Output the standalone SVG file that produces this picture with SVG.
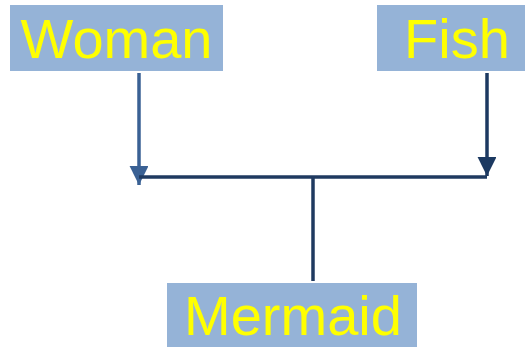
<svg xmlns="http://www.w3.org/2000/svg" width="525" height="347" viewBox="0 0 525 347">
<style>
.box{fill:#95b3d7}
.lbl{font-family:"Liberation Sans",Arial,sans-serif;font-size:56px;fill:#ffff00}
.ln{stroke:#1f3a60;stroke-width:3.5;fill:none}
</style>
<defs>
<marker id="ahL" markerWidth="6" markerHeight="6" refX="5.4" refY="2.7" orient="auto" markerUnits="strokeWidth"><path d="M0,0 L5.4,2.7 L0,5.4 z" fill="#3a6194"/></marker>
<marker id="ahR" markerWidth="6" markerHeight="6" refX="5.4" refY="2.7" orient="auto" markerUnits="strokeWidth"><path d="M0,0 L5.4,2.7 L0,5.4 z" fill="#1c3961"/></marker>
</defs>
<g id="connectors">
<line x1="139" y1="73" x2="139" y2="185" style="stroke:#3a6194;stroke-width:3.5" marker-end="url(#ahL)"/>
<line x1="487" y1="73" x2="487" y2="176" style="stroke:#1c3961;stroke-width:3.5" marker-end="url(#ahR)"/>
<line class="ln" x1="139" y1="177" x2="487" y2="177"/>
<line class="ln" x1="313" y1="177" x2="313" y2="281"/>
</g>
<g id="woman">
<rect class="box" x="10" y="5" width="213" height="66"/>
<text class="lbl" x="116.5" y="58" text-anchor="middle">Woman</text>
</g>
<g id="fish">
<rect class="box" x="377" y="5" width="148" height="66"/>
<text class="lbl" x="457" y="58" text-anchor="middle">Fish</text>
</g>
<g id="mermaid">
<rect class="box" x="167" y="283" width="250" height="64"/>
<text class="lbl" x="293" y="335" text-anchor="middle">Mermaid</text>
</g>
</svg>
